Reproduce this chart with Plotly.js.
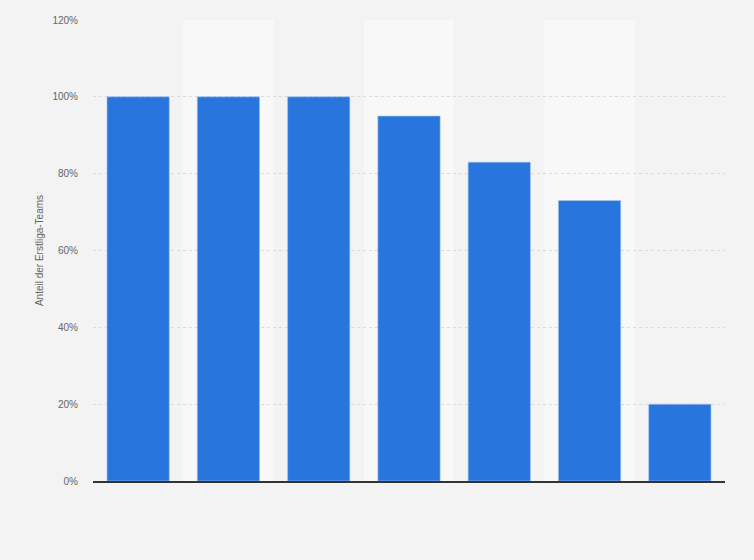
<!DOCTYPE html>
<html>
<head>
<meta charset="utf-8">
<script src="https://cdn.plot.ly/plotly-3.0.1.min.js"></script>
<style>
  html, body { margin: 0; padding: 0; background: #f3f3f3; }
  #chart { width: 754px; height: 560px; }
</style>
</head>
<body>
<div id="chart"></div>
<script>
(function() {
    'use strict';

    // Kategorien sind im Original nicht beschriftet
    var categories = ['1', '2', '3', '4', '5', '6', '7'];
    var shares = [100, 100, 100, 95, 83, 73, 20];
    var tickValues = [0, 20, 40, 60, 80, 100, 120];
    var tickLabels = ['0%', '20%', '40%', '60%', '80%', '100%', '120%'];

    var font = { family: 'Arial, "Liberation Sans", sans-serif', color: '#666666', size: 10 };

    // helle Hintergrundstreifen hinter jeder zweiten Kategorie
    var bands = [];
    categories.forEach(function(c, i) {
        if (i % 2 === 1) {
            bands.push({
                type: 'rect', xref: 'x', yref: 'paper',
                x0: i - 0.5, x1: i + 0.5, y0: 0, y1: 1,
                fillcolor: '#f8f8f8', line: { width: 0 }, layer: 'below'
            });
        }
    });

    var trace = {
        type: 'bar',
        x: categories.map(function(c, i) { return i; }),
        y: shares,
        width: 0.69,
        marker: { color: '#2876dd', line: { color: '#a9c8f0', width: 0.6 } },
        hoverinfo: 'y'
    };

    var layout = {
        width: 754,
        height: 560,
        margin: { t: 20, r: 29, b: 79, l: 93 },
        paper_bgcolor: '#f3f3f3',
        plot_bgcolor: '#f3f3f3',
        font: font,
        showlegend: false,
        bargap: 0.31,
        shapes: bands,
        xaxis: {
            range: [-0.5, categories.length - 0.5],
            showticklabels: false,
            showgrid: false,
            zeroline: false,
            showline: true,
            linecolor: '#333333',
            linewidth: 1.5,
            ticks: '',
            fixedrange: true
        },
        yaxis: {
            range: [0, 120],
            tickvals: tickValues,
            ticktext: tickLabels,
            showgrid: true,
            gridcolor: '#dadada',
            griddash: 'dot',
            gridwidth: 1,
            zeroline: false,
            ticks: '',
            ticklabelstandoff: 14,
            automargin: false,
            fixedrange: true,
            title: { text: 'Anteil der Erstliga-Teams', font: { size: 10, color: '#666666' }, standoff: 6 }
        }
    };

    Plotly.newPlot('chart', [trace], layout, { displayModeBar: false, staticPlot: true });
})();
</script>
</body>
</html>
